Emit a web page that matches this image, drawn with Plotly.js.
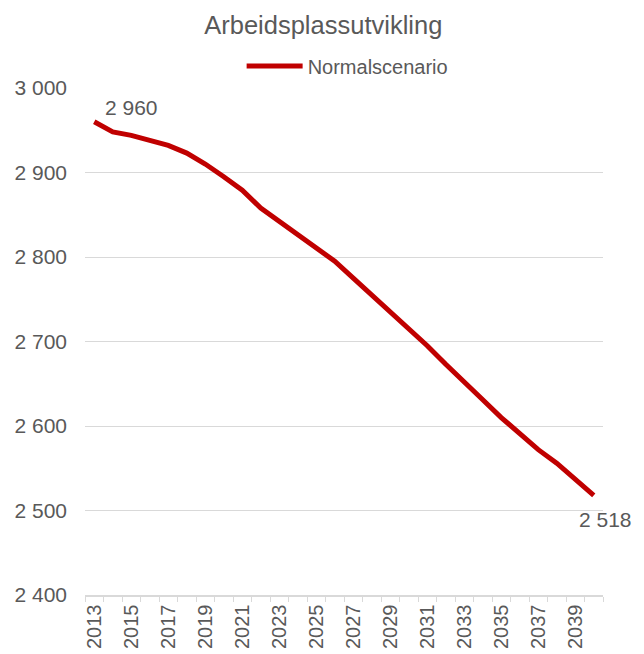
<!DOCTYPE html>
<html><head><meta charset="utf-8">
<script src="https://cdn.plot.ly/plotly-3.0.1.min.js"></script>
<style>html,body{margin:0;padding:0;background:#fff}#c{width:644px;height:654px}</style>
</head><body><div id="c"></div>
<script>
const years = [2013,2014,2015,2016,2017,2018,2019,2020,2021,2022,2023,2024,2025,2026,2027,2028,2029,2030,2031,2032,2033,2034,2035,2036,2037,2038,2039,2040];
const normalscenario = [2960,2948,2944,2938,2932,2923,2910,2895,2879,2858,2842,2826,2811,2795,2775,2755,2735,2715,2695,2673,2651,2631,2610,2590,2572,2556,2536,2518];
const tickYears = [2013,2015,2017,2019,2021,2023,2025,2027,2029,2031,2033,2035,2037,2039];
const seriesName = 'Normalscenario';
const chartTitle = 'Arbeidsplassutvikling';

const gray = '#595959';
const fontFam = 'Liberation Sans, Arial, sans-serif';
const n = years.length;
const fmt = v => String(v).replace(/\B(?=(\d{3})+(?!\d))/g, ' ');

const data = [{
  x: years, y: normalscenario, type: 'scatter', mode: 'lines', name: seriesName,
  line: {color: '#c00000', width: 5}, hoverinfo: 'x+y'
}];

const layout = {
  width: 644, height: 654,
  margin: {l: 85, r: 41, t: 88, b: 59},
  paper_bgcolor: '#fff', plot_bgcolor: '#fff',
  separators: ', ',
  font: {family: fontFam, color: gray, size: 20},
  title: {text: chartTitle, font: {size: 25.5, color: gray, family: fontFam}, xref: 'container', x: 0.502, xanchor: 'center', yref: 'container', y: 1 - 25/654, yanchor: 'middle'},
  showlegend: true,
  legend: {orientation: 'h', x: 0.507, xanchor: 'center', y: 1.005, yanchor: 'bottom', itemwidth: 56, font: {size: 20, color: gray}, bgcolor: 'rgba(0,0,0,0)'},
  xaxis: {
    type: 'linear', range: [years[0] - 0.5, years[n-1] + 0.5],
    tickmode: 'array', tickvals: tickYears, ticktext: tickYears.map(String),
    tickangle: -90, ticklen: 0, tickfont: {size: 20, color: gray},
    showgrid: false, zeroline: false, showline: true, linecolor: '#d9d9d9', linewidth: 1.5,
    minor: {tickmode: 'linear', tick0: years[0] - 0.5, dtick: 1, ticks: 'outside', ticklen: 5, tickcolor: '#d9d9d9', tickwidth: 1, showgrid: false},
    fixedrange: true
  },
  yaxis: {
    range: [2400, 3000], dtick: 100, tickformat: ',d',
    showgrid: true, gridcolor: '#d9d9d9', gridwidth: 1, zeroline: false, showline: false,
    tickfont: {size: 21, color: gray}, ticks: '', ticklabelstandoff: 17, fixedrange: true
  },
  annotations: [
    {x: years[0], y: normalscenario[0], xref: 'x', yref: 'y', text: fmt(normalscenario[0]), showarrow: false, xanchor: 'left', yanchor: 'bottom', xshift: 9, yshift: 1, font: {size: 21, color: gray}},
    {x: years[n-1], y: normalscenario[n-1], xref: 'x', yref: 'y', text: fmt(normalscenario[n-1]), showarrow: false, xanchor: 'center', yanchor: 'top', xshift: 12, yshift: -11, font: {size: 21, color: gray}}
  ]
};

Plotly.newPlot('c', data, layout, {displayModeBar: false, staticPlot: true});
</script>
</body></html>
